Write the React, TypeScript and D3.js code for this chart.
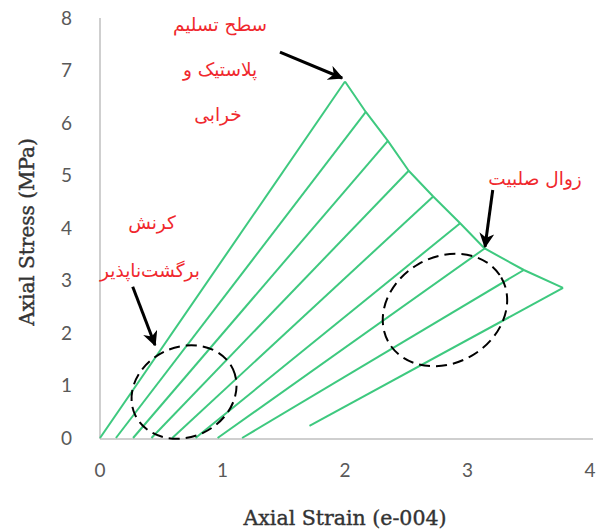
import React from "react";
import * as d3 from "d3";

// Unloading/reloading paths: start strain/stress on the lower end, end point on the yield envelope
const startStrain = [0, 0.13, 0.27, 0.42, 0.59, 0.78, 0.96, 1.16, 1.71];
const startStress = [0, 0, 0, 0, 0, 0, 0, 0, 0.23];
const envStrain = [2.0, 2.17, 2.35, 2.52, 2.72, 2.94, 3.14, 3.46, 3.78];
const envStress = [6.79, 6.21, 5.66, 5.09, 4.6, 4.09, 3.61, 3.2, 2.86];

const xTicks = [0, 1, 2, 3, 4];
const yTicks = [0, 1, 2, 3, 4, 5, 6, 7, 8];

const W = 603;
const H = 531;

export default function App() {
  const x = d3.scaleLinear().domain([0, 4]).range([100, 590]);
  const y = d3.scaleLinear().domain([0, 8]).range([438, 18]);

  const green = "#3ec97f";
  const red = "#f0282d";
  const gray = "#595959";

  const envelope = d3
    .line<number>()
    .x((i) => x(envStrain[i]))
    .y((i) => y(envStress[i]))(envStrain.map((_, i) => i));

  // dashed regions (center strain, center stress, radii in px, rotation)
  const regions = [
    { cx: 0.686, cy: 0.876, rx: 54, ry: 45, rot: -25 },
    { cx: 2.816, cy: 2.438, rx: 65, ry: 53, rot: -30 },
  ];

  const arrows = [
    { x1: 1.469, y1: 7.35, x2: 1.976, y2: 6.857 },
    { x1: 3.206, y1: 4.724, x2: 3.143, y2: 3.644 },
    { x1: 0.267, y1: 2.882, x2: 0.449, y2: 1.771 },
  ];

  const persianFont = "'DejaVu Sans', 'Noto Sans', sans-serif";
  const titleFont = "'DejaVu Serif', 'Liberation Serif', serif";

  return (
    <svg
      width={W}
      height={H}
      style={{ position: "absolute", left: 0, top: 0, background: "#fff" }}
    >
      <defs>
        <marker
          id="ah"
          viewBox="0 0 10 10"
          refX="9"
          refY="5"
          markerWidth="5"
          markerHeight="5"
          orient="auto"
          markerUnits="strokeWidth"
        >
          <path d="M0,0 L10,5 L0,10 L3,5 Z" fill="#000" />
        </marker>
      </defs>

      {/* axes */}
      <line x1={x(0)} x2={x(0)} y1={y(8)} y2={439} stroke="#bfbfbf" strokeWidth={1.5} />
      <line x1={x(0)} x2={593} y1={439} y2={439} stroke="#bfbfbf" strokeWidth={1.5} />

      {xTicks.map((t) => (
        <text
          key={"x" + t}
          x={x(t)}
          y={477}
          textAnchor="middle"
          fontFamily="Lato, 'Open Sans', sans-serif"
          fontSize={19}
          fill={gray}
        >
          {t}
        </text>
      ))}
      {yTicks.map((t) => (
        <text
          key={"y" + t}
          x={72}
          y={y(t) + 6.5}
          textAnchor="end"
          fontFamily="Lato, 'Open Sans', sans-serif"
          fontSize={19}
          fill={gray}
        >
          {t}
        </text>
      ))}

      <text
        x={345}
        y={525}
        textAnchor="middle"
        fontFamily={titleFont}
        fontSize={20.5}
        fill="#333"
        stroke="#333"
        strokeWidth={0.4}
      >
        Axial Strain (e-004)
      </text>
      <text
        transform={`translate(34,232) rotate(-90)`}
        textAnchor="middle"
        fontFamily={titleFont}
        fontSize={20}
        fill="#333"
        stroke="#333"
        strokeWidth={0.4}
      >
        Axial Stress (MPa)
      </text>

      {/* paths */}
      {startStrain.map((s, i) => (
        <line
          key={"p" + i}
          x1={x(s)}
          y1={y(startStress[i])}
          x2={x(envStrain[i])}
          y2={y(envStress[i])}
          stroke={green}
          strokeWidth={2}
        />
      ))}
      <path d={envelope ?? ""} fill="none" stroke={green} strokeWidth={2} strokeLinejoin="round" />

      {/* highlighted regions */}
      {regions.map((r, i) => (
        <ellipse
          key={"e" + i}
          cx={0}
          cy={0}
          rx={r.rx}
          ry={r.ry}
          transform={`translate(${x(r.cx)},${y(r.cy)}) rotate(${r.rot})`}
          fill="none"
          stroke="#000"
          strokeWidth={2}
          strokeDasharray="11 6"
        />
      ))}

      {/* callout arrows */}
      {arrows.map((a, i) => (
        <line
          key={"a" + i}
          x1={x(a.x1)}
          y1={y(a.y1)}
          x2={x(a.x2)}
          y2={y(a.y2)}
          stroke="#000"
          strokeWidth={3}
          markerEnd="url(#ah)"
        />
      ))}

      {/* labels */}
      <g fontFamily={persianFont} fontSize={18.5} fill={red} textAnchor="middle" direction="rtl">
        <text x={220} y={31}>سطح تسلیم</text>
        <text x={220} y={76}>پلاستیک و</text>
        <text x={218} y={121}>خرابی</text>
        <text x={535} y={185}>زوال صلبیت</text>
        <text x={152} y={229}>کرنش</text>
        <text x={150} y={277}>برگشت‌ناپذیر</text>
      </g>
    </svg>
  );
}
